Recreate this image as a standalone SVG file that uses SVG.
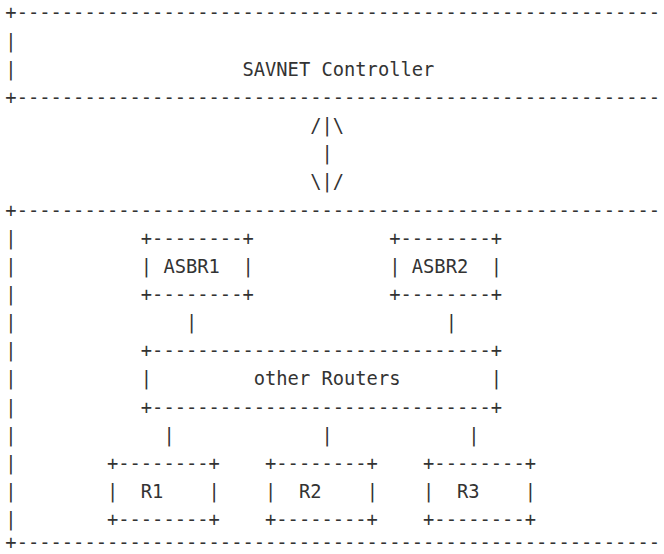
<svg xmlns="http://www.w3.org/2000/svg" width="664" height="554" viewBox="0 0 664 554">
<style>
text { font-family: "DejaVu Sans Mono", "Liberation Mono", monospace; font-size: 18.75px; fill: #333333; }
</style>
<rect width="664" height="554" fill="#ffffff"/>
<g id="controller">
<text x="5.36" y="19.4">+---------------------------------------------------------</text>
<text x="5.36" y="47.56">|</text>
<text x="5.36" y="75.72">|</text>
<text x="242.45" y="75.72">SAVNET Controller</text>
<text x="5.36" y="103.88">+---------------------------------------------------------</text>
</g>
<g id="domain">
<text x="5.36" y="216.52">+---------------------------------------------------------</text>
<text x="5.36" y="244.68">|</text>
<text x="5.36" y="272.84">|</text>
<text x="5.36" y="301.0">|</text>
<text x="5.36" y="329.16">|</text>
<text x="5.36" y="357.32">|</text>
<text x="5.36" y="385.48">|</text>
<text x="5.36" y="413.64">|</text>
<text x="5.36" y="441.8">|</text>
<text x="5.36" y="469.96">|</text>
<text x="5.36" y="498.12">|</text>
<text x="5.36" y="526.28">|</text>
<text x="5.36" y="549.4">+---------------------------------------------------------</text>
</g>
<g id="asbr1">
<text x="140.84" y="244.68">+--------+</text>
<text x="140.84" y="272.84">|</text>
<text x="163.42" y="272.84">ASBR1</text>
<text x="242.45" y="272.84">|</text>
<text x="140.84" y="301.0">+--------+</text>
</g>
<g id="asbr2">
<text x="389.22" y="244.68">+--------+</text>
<text x="389.22" y="272.84">|</text>
<text x="411.8" y="272.84">ASBR2</text>
<text x="490.82" y="272.84">|</text>
<text x="389.22" y="301.0">+--------+</text>
</g>
<g id="other-routers">
<text x="140.84" y="357.32">+------------------------------+</text>
<text x="140.84" y="385.48">|</text>
<text x="253.74" y="385.48">other Routers</text>
<text x="490.82" y="385.48">|</text>
<text x="140.84" y="413.64">+------------------------------+</text>
</g>
<g id="r1">
<text x="106.97" y="469.96">+--------+</text>
<text x="106.97" y="498.12">|</text>
<text x="140.84" y="498.12">R1</text>
<text x="208.58" y="498.12">|</text>
<text x="106.97" y="526.28">+--------+</text>
</g>
<g id="r2">
<text x="265.03" y="469.96">+--------+</text>
<text x="265.03" y="498.12">|</text>
<text x="298.9" y="498.12">R2</text>
<text x="366.64" y="498.12">|</text>
<text x="265.03" y="526.28">+--------+</text>
</g>
<g id="r3">
<text x="423.08" y="469.96">+--------+</text>
<text x="423.08" y="498.12">|</text>
<text x="456.95" y="498.12">R3</text>
<text x="524.69" y="498.12">|</text>
<text x="423.08" y="526.28">+--------+</text>
</g>
<g id="connectors">
<text x="310.19" y="132.04">/|\</text>
<text x="321.48" y="160.2">|</text>
<text x="310.19" y="188.36">\|/</text>
<text x="186.0" y="329.16">|</text>
<text x="445.66" y="329.16">|</text>
<text x="163.42" y="441.8">|</text>
<text x="321.48" y="441.8">|</text>
<text x="468.24" y="441.8">|</text>
</g>
</svg>
